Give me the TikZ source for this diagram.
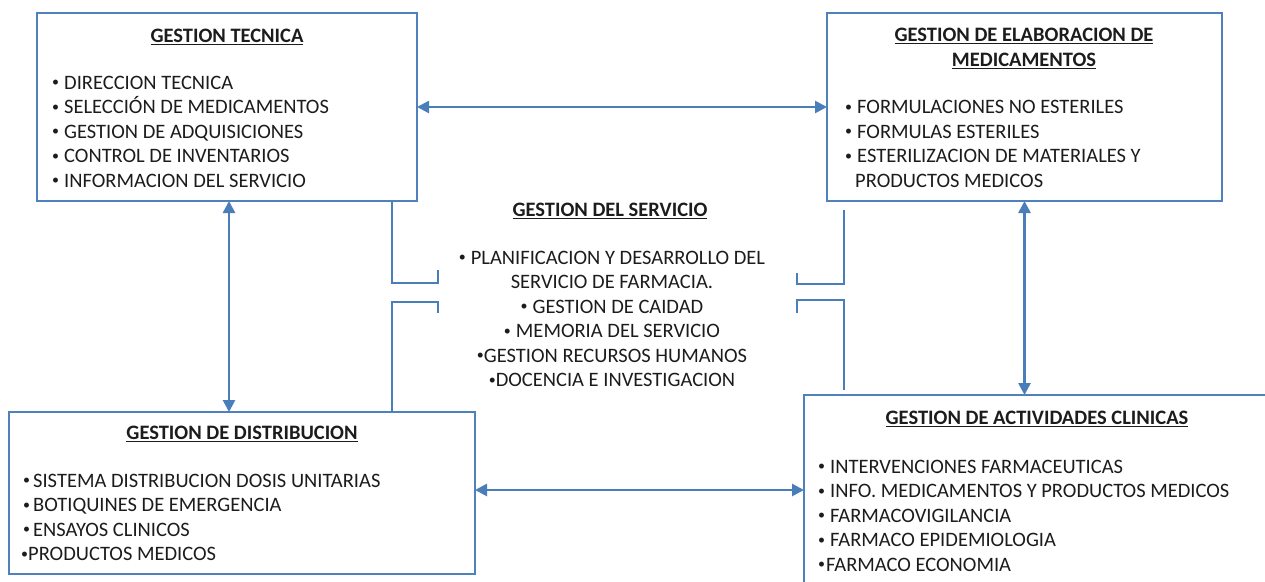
\documentclass[tikz,border=0pt]{standalone}
\usepackage{fontspec}
\setmainfont{Carlito}
\usetikzlibrary{arrows.meta}
\definecolor{bord}{HTML}{4F81BD}
\definecolor{connc}{HTML}{4A7EBB}
\definecolor{txtc}{HTML}{1C1C1C}
\newcommand{\hul}[1]{\setbox0\hbox{#1}\rlap{\rule[-3.4pt]{\wd0}{1.6pt}}\box0}
\newcommand{\bul}{\raisebox{2.2pt}{\fontsize{14}{14}\selectfont •}}
\newcommand{\bs}{\bul\hspace{5pt}}
\tikzset{
  box/.style={draw=bord, line width=2.4pt, fill=white, inner sep=0pt, outer sep=0pt},
  item/.style={anchor=base west, inner sep=0pt, font=\fontsize{20.5}{24}\selectfont, text=txtc},
  head/.style={anchor=base, inner sep=0pt, font=\fontsize{20.5}{24}\selectfont\bfseries, text=txtc},
  mid/.style={anchor=base, inner sep=0pt, font=\fontsize{20.5}{24}\selectfont, text=txtc},
  conn/.style={draw=connc, line width=2.6pt},
  arr/.style={conn, {Triangle[length=12pt,width=12pt]}-{Triangle[length=12pt,width=12pt]}}
}
\begin{document}
\begin{tikzpicture}[x=1pt,y=-1pt]
\useasboundingbox (0,0) rectangle (1265,581);
% boxes
\node[box, minimum width=380pt, minimum height=188pt] (gt) at (227,107) {};
\node[box, minimum width=395pt, minimum height=188pt] (ge) at (1024.5,107) {};
\node[box, minimum width=466pt, minimum height=162pt] (gd) at (242,493) {};
\node[box, minimum width=471pt, minimum height=205pt] (ga) at (1039.5,497.5) {};
% GESTION TECNICA
\node[head] (gth) at (227,42) {\hul{GESTION TECNICA}};
\node[item] (gt1) at (52,89) {\bs DIRECCION TECNICA};
\node[item] (gt2) at (52,113.5) {\bs SELECCIÓN DE MEDICAMENTOS};
\node[item] (gt3) at (52,138) {\bs GESTION DE ADQUISICIONES};
\node[item] (gt4) at (52,162.5) {\bs CONTROL DE INVENTARIOS};
\node[item] (gt5) at (52,187) {\bs INFORMACION DEL SERVICIO};
% GESTION DE ELABORACION
\node[head] (geh1) at (1024,41) {\hul{GESTION DE ELABORACION DE}};
\node[head] (geh2) at (1024,66) {\hul{MEDICAMENTOS}};
\node[item] (ge1) at (845,113.5) {\bs FORMULACIONES NO ESTERILES};
\node[item] (ge2) at (845,138) {\bs FORMULAS ESTERILES};
\node[item] (ge3) at (845,162.5) {\bs ESTERILIZACION DE MATERIALES Y};
\node[item] (ge4) at (855,187) {PRODUCTOS MEDICOS};
% GESTION DE DISTRIBUCION
\node[head] (gdh) at (242,439) {\hul{GESTION DE DISTRIBUCION}};
\node[item] (gd1) at (23,487) {\bul\hspace{3pt}SISTEMA DISTRIBUCION DOSIS UNITARIAS};
\node[item] (gd2) at (23,511.5) {\bul\hspace{3pt}BOTIQUINES DE EMERGENCIA};
\node[item] (gd3) at (23,536) {\bul\hspace{3pt}ENSAYOS CLINICOS};
\node[item] (gd4) at (21,560.5) {\bul PRODUCTOS MEDICOS};
% GESTION DE ACTIVIDADES CLINICAS
\node[head] (gah) at (1037,424) {\hul{GESTION DE ACTIVIDADES CLINICAS}};
\node[item] (ga1) at (818,473) {\bs INTERVENCIONES FARMACEUTICAS};
\node[item] (ga2) at (818,497.5) {\bs INFO. MEDICAMENTOS Y PRODUCTOS MEDICOS};
\node[item] (ga3) at (818,522) {\bs FARMACOVIGILANCIA};
\node[item] (ga4) at (818,546.5) {\bs FARMACO EPIDEMIOLOGIA};
\node[item] (ga5) at (818,571) {\bul\hspace{1pt}FARMACO ECONOMIA};
% GESTION DEL SERVICIO
\node[head] (gsh) at (610,216) {\hul{GESTION DEL SERVICIO}};
\node[mid] (gs1) at (612,264) {\bs PLANIFICACION Y DESARROLLO DEL};
\node[mid] (gs2) at (612,288.5) {SERVICIO DE FARMACIA.};
\node[mid] (gs3) at (612,313) {\bs GESTION DE CAIDAD};
\node[mid] (gs4) at (612,337.5) {\bs MEMORIA DEL SERVICIO};
\node[mid] (gs5) at (612,362) {\bul GESTION RECURSOS HUMANOS};
\node[mid] (gs6) at (612,386.5) {\bul DOCENCIA E INVESTIGACION};
% arrows
\draw[arr] (gt.east) -- (ge.west);
\draw[arr] (gt.south -| 229,0) -- (gd.north -| 229,0);
\draw[arr] (ge.south) -- (ge.south |- ga.north);
\coordinate (dA) at (gd.east |- 0,490);
\coordinate (aA) at (ga.west |- 0,490);
\draw[arr] (dA) -- (aA);
% brackets
\coordinate (l1a) at (392,201); \coordinate (l1b) at (438,270);
\coordinate (l2a) at (392,412); \coordinate (l2b) at (438,313);
\coordinate (r1a) at (844,210); \coordinate (r1b) at (797,273);
\coordinate (r2a) at (844,390); \coordinate (r2b) at (797,313);
\draw[conn] (l1a) -- (392,283) -- (438,283) -- (l1b);
\draw[conn] (l2a) -- (392,302) -- (438,302) -- (l2b);
\draw[conn] (r1a) -- (844,284) -- (797,284) -- (r1b);
\draw[conn] (r2a) -- (844,300) -- (797,300) -- (r2b);
\end{tikzpicture}
\end{document}
